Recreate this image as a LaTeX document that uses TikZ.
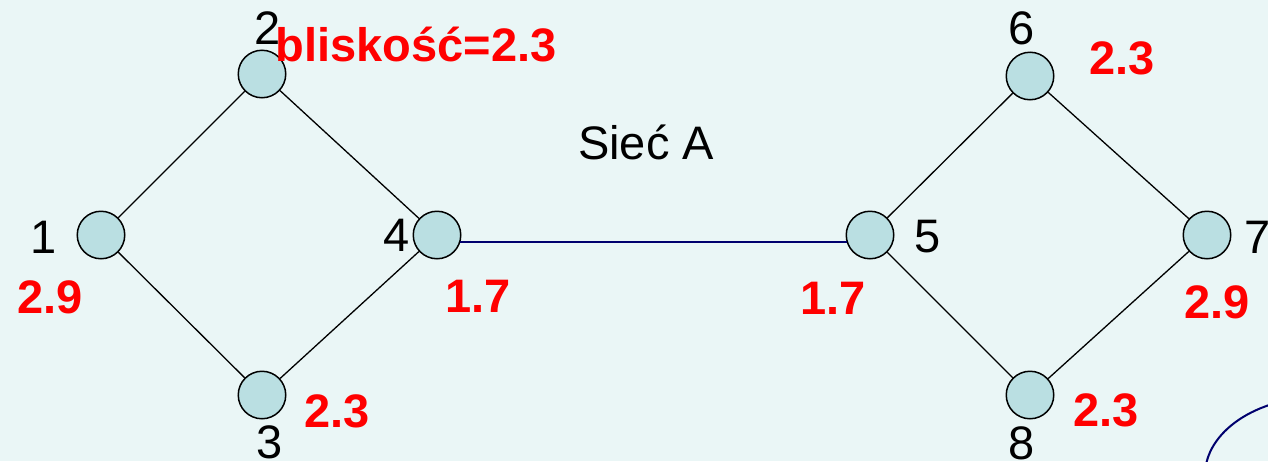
\documentclass[tikz,border=0pt]{standalone}
\usepackage{fontspec}
\setmainfont{Liberation Sans}
\definecolor{bgc}{RGB}{234,246,246}
\definecolor{nodefill}{RGB}{186,223,226}
\definecolor{navy}{RGB}{0,0,110}
\definecolor{redlab}{RGB}{255,0,0}
\begin{document}
\begin{tikzpicture}[x=1pt,y=-1pt,
  vert/.style={circle,draw=black,line width=1.5pt,fill=nodefill,inner sep=0pt,minimum size=47.5pt},
  num/.style={font=\fontsize{47}{47}\selectfont,text=black,inner sep=0pt},
  val/.style={font=\fontsize{47}{47}\selectfont\bfseries,text=redlab,inner sep=0pt},
  edge/.style={line width=1.3pt,black}]
\fill[bgc] (0,0) rectangle (1268,461);
\useasboundingbox (0,0) rectangle (1268,461);
\clip (0,0) rectangle (1268,461);
% nodes
\node[vert] (n1) at (101,235) {};
\node[vert] (n2) at (262,74) {};
\node[vert] (n3) at (262,395) {};
\node[vert] (n4) at (437,235) {};
\node[vert] (n5) at (870,235) {};
\node[vert] (n6) at (1030,76) {};
\node[vert] (n7) at (1207,235) {};
\node[vert] (n8) at (1030,395) {};
% edges
\draw[edge] (n1) -- (n2);
\draw[edge] (n1) -- (n3);
\draw[edge] (n2) -- (n4);
\draw[edge] (n3) -- (n4);
\draw[edge] (n5) -- (n6);
\draw[edge] (n5) -- (n8);
\draw[edge] (n6) -- (n7);
\draw[edge] (n8) -- (n7);
\draw[line width=1.5pt,navy] (n4.-17) -- (n5.197);
% number labels
\node[num] (l1) at (44,237) {1};
\node[num] (l2) at (268,28) {2};
\node[num] (l3) at (270,442) {3};
\node[num] (l4) at (397,235) {4};
\node[num] (l5) at (928,237) {5};
\node[num] (l6) at (1022,28) {6};
\node[num] (l7) at (1258,237) {7};
\node[num] (l8) at (1022,443) {8};
% values
\node[val] (v2) at (416,45) {bliskość=2.3};
\node[val] (v1) at (50,297) {2.9};
\node[val] (v4) at (478,296) {1.7};
\node[val] (v5) at (833,298) {1.7};
\node[val] (v6) at (1122,58) {2.3};
\node[val] (v7) at (1217,302) {2.9};
\node[val] (v3) at (337,411) {2.3};
\node[val] (v8) at (1106,410) {2.3};
% title
\node[num] (title) at (646,142) {Sieć A};
% partial ellipse
\draw[navy,line width=2pt] (1320,475) ellipse [x radius=115, y radius=78];
\end{tikzpicture}
\end{document}
